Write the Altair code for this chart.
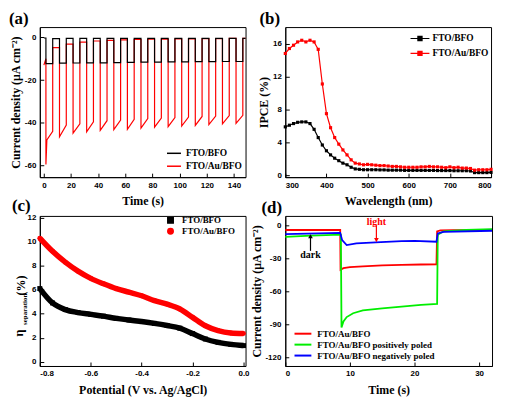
import altair as alt
import pandas as pd

SERIF = "Liberation Serif"
SANS = "Liberation Sans"

# ---------------- (a) transient photocurrent, chopped light ----------------
a_series = ["FTO/BFO", "FTO/Au/BFO"]
a_colors = ["#000000", "#ff0000"]
a_on = [1.5, 11.5, 21.5, 31.5, 41.5, 51.5, 61.5, 71.5, 81.5, 91.5, 101.5, 111.5, 121.5, 131.5, 141.5]
a_off = [6.5, 16.5, 26.5, 36.5, 46.5, 56.5, 66.5, 76.5, 86.5, 96.5, 106.5, 116.5, 126.5, 136.5, 146.5]
a_t_end = 150
a_red_start = [-13.0, -10.0]
a_red_knee = [2.2, -48.0]
a_red_peak = [-59.5, -46.5, -44.8, -44.2, -43.5, -43.2, -43.0, -42.5, -42.0, -41.8, -41.5, -41.2, -40.8, -40.5, -40.2]
a_red_end = [-44.0, -41.0, -40.5, -39.5, -39.0, -38.7, -38.3, -38.0, -37.8, -37.5, -37.3, -37.0, -36.8, -36.6, -36.5]
a_red_dark = [-4.8, -3.2, -2.2, -1.7, -1.4, -1.2, -1.0, -0.9, -0.8, -0.7, -0.7, -0.6, -0.6, -0.5, -0.5]
a_blk_start = -0.3
a_blk_light = [-12.3, -12.1, -12.0, -11.9, -11.9, -11.8, -11.7, -11.6, -11.6, -11.5, -11.5, -11.4, -11.4, -11.3, -11.3]
a_blk_dark = [-0.6, -0.5, -0.5, -0.5, -0.5, -0.5, -0.5, -0.5, -0.5, -0.5, -0.5, -0.5, -0.5, -0.5, -0.5]

# ---------------- (b) IPCE ----------------
b_series = ["FTO/BFO", "FTO/Au/BFO"]
b_colors = ["#000000", "#ff0000"]
b_wl = [300, 310, 320, 330, 340, 350, 360, 370, 380, 390, 400, 410, 420, 430, 440, 450, 460,
        470, 480, 490, 500, 510, 520, 530, 540, 550, 560, 570, 580, 590, 600, 610, 620, 630,
        640, 650, 660, 670, 680, 690, 700, 710, 720, 730, 740, 750, 760, 770, 780, 790, 800]
b_bfo = [5.9, 6.1, 6.3, 6.45, 6.5, 6.5, 6.3, 5.6, 4.6, 3.7, 3.0, 2.5, 2.1, 1.8, 1.5, 1.3, 1.0,
         0.8, 0.75, 0.7, 0.7, 0.7, 0.7, 0.68, 0.68, 0.65, 0.65, 0.65, 0.65, 0.62, 0.62, 0.62, 0.62, 0.62,
         0.62, 0.62, 0.62, 0.6, 0.6, 0.6, 0.6, 0.58, 0.58, 0.58, 0.58, 0.55, 0.35, 0.35, 0.35, 0.35, 0.38]
b_aubfo = [14.8, 15.4, 15.8, 16.2, 16.4, 16.2, 16.4, 16.2, 15.3, 11.1, 7.5, 5.8, 4.6, 3.8, 3.1, 2.5, 1.9,
           1.5, 1.4, 1.3, 1.35, 1.3, 1.25, 1.2, 1.2, 1.15, 1.1, 1.1, 1.05, 1.0, 1.0, 1.0, 1.0, 1.05,
           1.05, 1.1, 1.05, 1.05, 1.0, 0.95, 1.05, 0.95, 1.0, 0.9, 0.9, 0.85, 0.65, 0.7, 0.7, 0.7, 0.75]

# ---------------- (c) separation efficiency ----------------
c_series = ["FTO/BFO", "FTO/Au/BFO"]
c_colors = ["#000000", "#ff0000"]
c_shapes = ["square", "circle"]
c_pot = [-0.8, -0.75, -0.7, -0.65, -0.6, -0.55, -0.5, -0.45, -0.4, -0.35, -0.3, -0.25, -0.2, -0.15, -0.1, -0.05, 0.0]
c_bfo = [6.1, 4.9, 4.35, 4.1, 3.95, 3.8, 3.62, 3.48, 3.35, 3.2, 3.02, 2.8, 2.35, 1.9, 1.62, 1.45, 1.35]
c_aubfo = [10.3, 9.2, 8.3, 7.55, 6.95, 6.5, 6.1, 5.8, 5.5, 5.1, 4.8, 4.4, 3.7, 3.0, 2.6, 2.4, 2.35]

# ---------------- (d) poling effect ----------------
d_series = ["FTO/Au/BFO", "FTO/Au/BFO positively poled", "FTO/Au/BFO negatively poled"]
d_colors = ["#ff0000", "#00ee00", "#0000ff"]
d_red_t = [0, 8.5, 8.55, 9.0, 10, 12, 15, 18, 21, 23.4, 23.5, 24, 26, 32]
d_red_v = [-3.8, -3.8, -40, -38.5, -37.5, -36.8, -36, -35.5, -35.2, -35, -5, -4.2, -4, -4]
d_grn_t = [0, 4, 8.6, 8.7, 9.0, 9.5, 10.5, 12, 15, 18, 21, 23.5, 23.6, 24.5, 28, 32]
d_grn_v = [-10, -9, -8, -92.5, -87, -83, -79.5, -77, -75, -73.5, -72, -71, -8, -5, -3.8, -3]
d_blu_t = [0, 8.5, 8.8, 9.5, 11, 14, 18, 20, 23.4, 23.6, 24.5, 32]
d_blu_v = [-7.5, -6.5, -13, -17.5, -16, -15, -14, -13.7, -14.5, -7, -5.5, -4.5]
d_yticks = [0, -30, -60, -90, -120]
d_ylabels = ["0", "-30", "-60", "-90", "-120"]
d_note_text = ["light", "dark"]
d_note_color = ["#ff0000", "#000000"]
d_note_shape = ["triangle-down", "triangle-up"]
d_note_t = [14.1, 3.9]
d_note_v = [3.2, -27.0]
d_arrow_from = [0.0, -22.8]
d_arrow_to = [-13.0, -9.5]

W, H = 207, 151


def fix_minus(fmt):
    return "replace(format(datum.value, '%s'), '\u2212', '-')" % fmt


def xax(title, values, fmt):
    return alt.Axis(title=title, values=values, labelExpr=fix_minus(fmt), labelOverlap=False,
                    tickCount=50, gridDash=[0, H - 4, 4, 2000])


def yax(title, values, fmt):
    return alt.Axis(title=title, values=values, labelExpr=fix_minus(fmt), labelOverlap=False,
                    tickCount=50, gridDash=[4, 2000])


def panel_title(txt, dx):
    return alt.TitleParams(text=txt, anchor="start", frame="group", dx=dx, offset=-1,
                           font=SERIF, fontSize=17, fontWeight="bold", color="black")


# ---- panel (a)
rows = [(0, a_red_start[0]), (a_on[0], a_red_start[1])]
for k in range(len(a_on)):
    rows.append((a_on[k], a_red_peak[k]))
    if k == 0:
        rows.append((a_red_knee[0], a_red_knee[1]))
    rows.append((a_off[k], a_red_end[k]))
    rows.append((a_off[k], a_red_dark[k]))
    rows.append((a_on[k + 1] if k + 1 < len(a_on) else a_t_end, a_red_dark[k]))
df_a_red = pd.DataFrame({"t": [r[0] for r in rows], "v": [r[1] for r in rows],
                         "s": a_series[1], "i": range(len(rows))})
rows = [(0, a_blk_start), (a_on[0], a_blk_start)]
for k in range(len(a_on)):
    rows.append((a_on[k], a_blk_light[k]))
    rows.append((a_off[k], a_blk_light[k]))
    rows.append((a_off[k], a_blk_dark[k]))
    rows.append((a_on[k + 1] if k + 1 < len(a_on) else a_t_end, a_blk_dark[k]))
df_a_blk = pd.DataFrame({"t": [r[0] for r in rows], "v": [r[1] for r in rows],
                         "s": a_series[0], "i": range(len(rows))})

a_color = alt.Color("s:N", scale=alt.Scale(domain=a_series, range=a_colors),
                    legend=alt.Legend(orient="none", legendX=127, legendY=119, title=None,
                                      symbolType="M-1,0L1,0", symbolSize=196, symbolStrokeWidth=1.5,
                                      labelFont=SERIF, labelFontSize=9.5, labelFontWeight="bold",
                                      rowPadding=-1, padding=0, labelOffset=4))
a_x = alt.X("t:Q", scale=alt.Scale(domain=[-3, 148.5], nice=False, zero=False),
            axis=xax("Time (s)", [0, 20, 40, 60, 80, 100, 120, 140], "d"))
a_y = alt.Y("v:Q", scale=alt.Scale(domain=[-65.4, 4.8], nice=False, zero=False),
            axis=yax("Current density (\u03bcA cm\u207b\u00b2)", [0, -20, -40, -60], "d"))
pa = alt.layer(
    alt.Chart(df_a_red).mark_line(strokeWidth=1.2, clip=True).encode(x=a_x, y=a_y, color=a_color, order="i:Q"),
    alt.Chart(df_a_blk).mark_line(strokeWidth=1.2, clip=True).encode(x=a_x, y=a_y, color=a_color, order="i:Q"),
).properties(width=W, height=H, title=panel_title("(a)", -31))

# ---- panel (b)
df_b = pd.DataFrame({"w": b_wl * 2, "v": b_bfo + b_aubfo,
                     "s": [b_series[0]] * len(b_wl) + [b_series[1]] * len(b_wl)})
b_color = alt.Color("s:N", scale=alt.Scale(domain=b_series, range=b_colors),
                    legend=alt.Legend(orient="none", legendX=125, legendY=1, title=None,
                                      symbolType="M-1,0L1,0M-0.22,-0.22L0.22,-0.22L0.22,0.22L-0.22,0.22Z",
                                      symbolSize=361, symbolStrokeWidth=1.2,
                                      labelFont=SERIF, labelFontSize=9.5, labelFontWeight="bold",
                                      rowPadding=-6.5, padding=0, labelOffset=2))
b_x = alt.X("w:Q", scale=alt.Scale(domain=[300, 800], nice=False, zero=False),
            axis=xax("Wavelength (nm)", [300, 400, 500, 600, 700, 800], "d"))
b_y = alt.Y("v:Q", scale=alt.Scale(domain=[-0.2, 18], nice=False, zero=False),
            axis=yax("IPCE (%)", [0, 4, 8, 12, 16], "d"))
pb = alt.layer(
    alt.Chart(df_b).mark_line(strokeWidth=1.2).encode(x=b_x, y=b_y, color=b_color, detail="s:N"),
    alt.Chart(df_b).mark_point(shape="square", filled=True, size=10, opacity=1).encode(x=b_x, y=b_y, color=b_color),
).properties(width=W, height=H, title=panel_title("(b)", -26))

# ---- panel (c)
df_c = pd.DataFrame({"p": c_pot * 2, "v": c_bfo + c_aubfo,
                     "s": [c_series[0]] * len(c_pot) + [c_series[1]] * len(c_pot)})
c_leg = alt.Legend(orient="none", legendX=127, legendY=0, title=None,
                   labelFont=SERIF, labelFontSize=9, labelFontWeight="bold",
                   rowPadding=-5, padding=0, labelOffset=7, symbolSize=30)
c_color = alt.Color("s:N", scale=alt.Scale(domain=c_series, range=c_colors), legend=c_leg)
c_shape = alt.Shape("s:N", scale=alt.Scale(domain=c_series, range=c_shapes), legend=c_leg)
c_x = alt.X("p:Q", scale=alt.Scale(domain=[-0.8, 0.008], nice=False, zero=False),
            axis=xax("Potential (V vs. Ag/AgCl)", [-0.8, -0.6, -0.4, -0.2, 0.0], ".1f"))
c_y = alt.Y("v:Q", scale=alt.Scale(domain=[-0.35, 12.15], nice=False, zero=False),
            axis=yax(None, [0, 2, 4, 6, 8, 10, 12], "d"))
one = pd.DataFrame({"k": [0]})
pc = alt.layer(
    alt.Chart(df_c).mark_line(strokeWidth=5.5, interpolate="monotone").encode(x=c_x, y=c_y, color=c_color, detail="s:N"),
    alt.Chart(df_c).mark_point(filled=True, size=25, opacity=1).encode(x=c_x, y=c_y, color=c_color, shape=c_shape),
    alt.Chart(one).mark_text(text="\u03b7", angle=270, font=SERIF, fontSize=13, fontWeight="bold",
                             color="black").encode(x=alt.value(-21), y=alt.value(118)),
    alt.Chart(one).mark_text(text="separation", angle=270, font=SERIF, fontSize=7, fontWeight="bold",
                             color="black").encode(x=alt.value(-15), y=alt.value(94)),
    alt.Chart(one).mark_text(text="(%)", angle=270, font=SERIF, fontSize=12, fontWeight="bold",
                             color="black").encode(x=alt.value(-19), y=alt.value(70)),
).properties(width=W, height=H, title=panel_title("(c)", -28))

# ---- panel (d)
df_d_r = pd.DataFrame({"t": d_red_t, "v": d_red_v, "s": d_series[0], "i": range(len(d_red_t))})
df_d_g = pd.DataFrame({"t": d_grn_t, "v": d_grn_v, "s": d_series[1], "i": range(len(d_grn_t))})
df_d_b = pd.DataFrame({"t": d_blu_t, "v": d_blu_v, "s": d_series[2], "i": range(len(d_blu_t))})
d_color = alt.Color("s:N", scale=alt.Scale(domain=d_series, range=d_colors),
                    legend=alt.Legend(orient="none", legendX=12.25, legendY=113, title=None,
                                      symbolType="M-2,0L2,0", symbolSize=72, symbolStrokeWidth=2,
                                      labelFont=SERIF, labelFontSize=9, labelFontWeight="bold",
                                      rowPadding=0, padding=0, labelOffset=9))
d_xscale = alt.Scale(domain=[0, 32], nice=False, zero=False)
d_yscale = alt.Scale(domain=[-127.5, 9], nice=False, zero=False)
d_x = alt.X("t:Q", scale=d_xscale, axis=xax("Time (s)", [0, 10, 20, 30], "d"))
d_yaxis = alt.Axis(title="Current density (\u03bcA cm\u207b\u00b2)", values=d_yticks, labels=False,
                   grid=False, titlePadding=22)
d_y = alt.Y("v:Q", scale=d_yscale, axis=d_yaxis)

df_note = pd.DataFrame({"label": d_note_text, "c": d_note_color, "t": d_note_t, "v": d_note_v})
df_head = pd.DataFrame({"c": d_note_color, "t": d_note_t, "v": d_arrow_to, "shape": d_note_shape})
df_arrow = pd.DataFrame({"c": d_note_color * 2, "t": d_note_t * 2,
                         "v": d_arrow_from + d_arrow_to, "id": [0, 1, 0, 1]})
df_dtick = pd.DataFrame({"v": d_yticks, "lab": d_ylabels})
pd_ = alt.layer(
    alt.Chart(df_d_r).mark_line(strokeWidth=1.8).encode(x=d_x, y=d_y, color=d_color, order="i:Q"),
    alt.Chart(df_d_g).mark_line(strokeWidth=1.8).encode(x=d_x, y=d_y, color=d_color, order="i:Q"),
    alt.Chart(df_d_b).mark_line(strokeWidth=1.8).encode(x=d_x, y=d_y, color=d_color, order="i:Q"),
    alt.Chart(df_note).mark_text(font=SERIF, fontSize=10, fontWeight="bold").encode(
        x=d_x, y=d_y, text="label:N", color=alt.Color("c:N", scale=None)),
    alt.Chart(df_arrow).mark_line(strokeWidth=1.2).encode(
        x=d_x, y=d_y, detail="id:N", color=alt.Color("c:N", scale=None)),
    alt.Chart(df_head).mark_point(filled=True, size=22, opacity=1).encode(
        x=d_x, y=d_y, shape=alt.Shape("shape:N", scale=None), color=alt.Color("c:N", scale=None)),
    alt.Chart(df_dtick).mark_rule(color="black", strokeWidth=1).encode(
        x=alt.value(0), x2=alt.value(4), y=d_y),
    alt.Chart(df_dtick).mark_text(align="right", baseline="middle", font=SANS, fontSize=8,
                                  fontWeight="bold", color="black").encode(
        x=alt.value(-4), y=d_y, text="lab:N"),
).properties(width=W + 1, height=H, title=panel_title("(d)", -24))

chart = alt.concat(pa, pb, pc, pd_, columns=2, spacing={"row": 39, "column": 40}, bounds="flush").resolve_scale(
    color="independent", shape="independent"
).resolve_legend(color="independent", shape="independent").properties(
    padding=0, background="white"
).configure_axis(
    labelFont=SANS, labelFontSize=8, labelFontWeight="bold", labelColor="black",
    titleFont=SERIF, titleFontSize=12, titleFontWeight="bold", titleColor="black",
    domainColor="black", domainWidth=1, ticks=False, tickSize=0,
    grid=True, gridColor="black", gridWidth=1, gridOpacity=1,
    labelPadding=4, labelOverlap=False,
).configure_axisX(titlePadding=7).configure_axisY(titlePadding=2).configure_view(stroke="black", strokeWidth=1)

chart.save("out.html", embed_options={"renderer": "svg", "actions": False})
